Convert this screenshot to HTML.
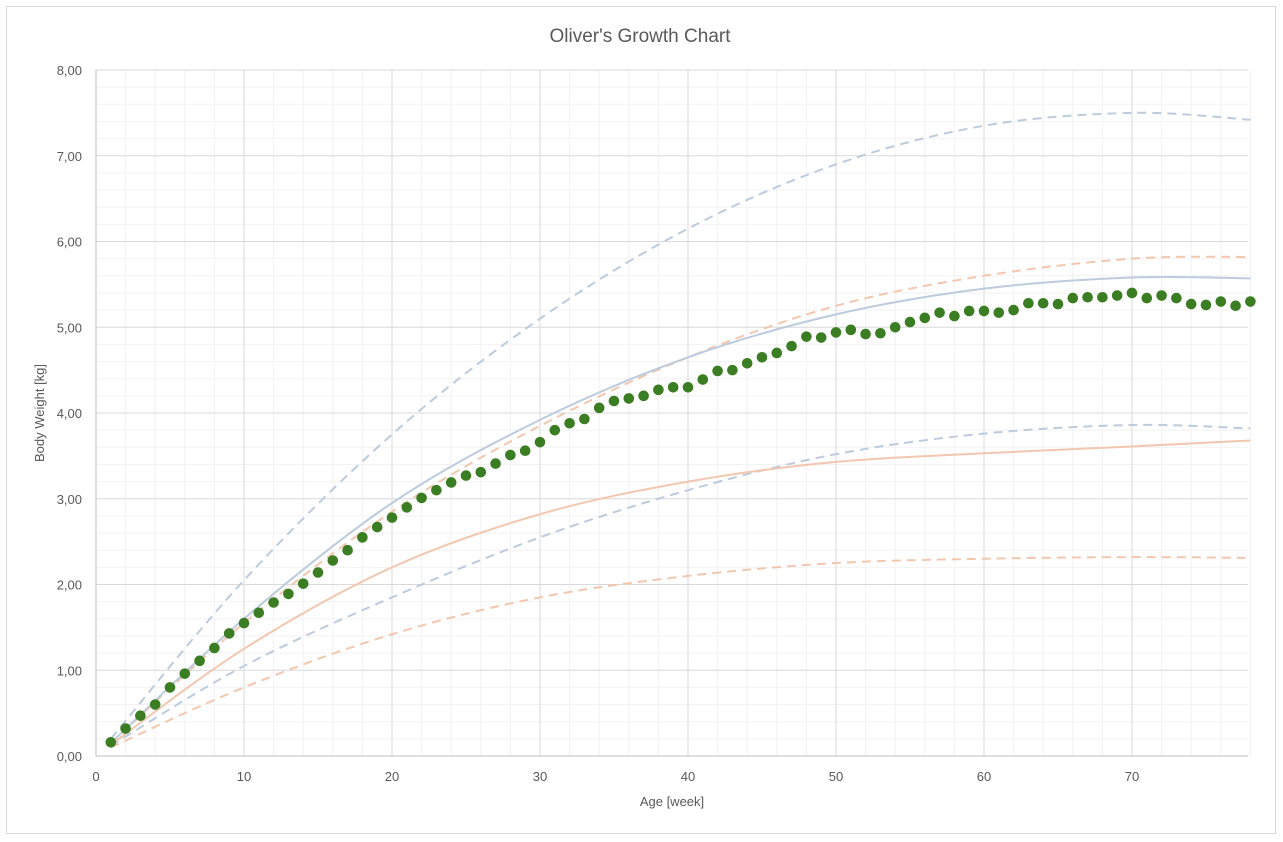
<!DOCTYPE html>
<html><head><meta charset="utf-8"><style>
html,body{margin:0;padding:0;background:#fff;}
svg{display:block;font-family:"Liberation Sans",sans-serif;}
</style></head><body>
<svg id="c" width="1283" height="842" xmlns="http://www.w3.org/2000/svg">
<rect x="6.5" y="6.5" width="1269" height="827" fill="#fff" stroke="#d9d9d9"/>
<text x="640" y="42" text-anchor="middle" font-size="19" fill="#595959">Oliver's Growth Chart</text>
<g id="grid"></g>
<g id="lines" fill="none" stroke-width="2"></g>
<g id="dots" fill="#3a7d22"></g>
<g id="labels" font-size="13" fill="#595959"></g>
<text x="672" y="806" text-anchor="middle" font-size="13" fill="#595959">Age [week]</text>
<text transform="translate(44,413) rotate(-90)" text-anchor="middle" font-size="13" fill="#595959">Body Weight [kg]</text>
</svg>
<script>
const X0=96,XS=14.8,Y0=756,YS=85.75;
const px=w=>X0+w*XS, py=v=>Y0-v*YS;
const NS="http://www.w3.org/2000/svg";
function el(p,t,a,txt){const e=document.createElementNS(NS,t);for(const k in a)e.setAttribute(k,a[k]);if(txt!=null)e.textContent=txt;document.getElementById(p).appendChild(e);}
for(let w=2;w<=78;w+=2){if(w%10)el("grid","line",{x1:px(w),x2:px(w),y1:70,y2:756,stroke:"#f2f2f2","stroke-width":1});}
for(let i=1;i<40;i++){if(i%5)el("grid","line",{x1:96,x2:1248,y1:py(i*0.2),y2:py(i*0.2),stroke:"#f2f2f2","stroke-width":1});}
for(let w=10;w<=70;w+=10)el("grid","line",{x1:px(w),x2:px(w),y1:70,y2:756,stroke:"#d9d9d9","stroke-width":1});
for(let v=1;v<=8;v++)el("grid","line",{x1:96,x2:1248,y1:py(v),y2:py(v),stroke:"#d9d9d9","stroke-width":1});
el("grid","line",{x1:96,x2:96,y1:70,y2:756,stroke:"#bfbfbf","stroke-width":1});
el("grid","line",{x1:96,x2:1248,y1:756,y2:756,stroke:"#bfbfbf","stroke-width":1});
for(let v=0;v<=8;v++)el("labels","text",{x:82,y:py(v)+5,"text-anchor":"end"},v.toFixed(2).replace(".",","));
for(let w=0;w<=70;w+=10)el("labels","text",{x:px(w),y:781,"text-anchor":"middle"},w);
function path(pts){const P=pts.map(p=>[px(p[0]),py(p[1])]);let d="M"+P[0][0]+","+P[0][1];
for(let i=0;i<P.length-1;i++){const p0=P[Math.max(0,i-1)],p1=P[i],p2=P[i+1],p3=P[Math.min(P.length-1,i+2)];
const c1=[p1[0]+(p2[0]-p0[0])/6,p1[1]+(p2[1]-p0[1])/6],c2=[p2[0]-(p3[0]-p1[0])/6,p2[1]-(p3[1]-p1[1])/6];
d+=` C${c1[0]},${c1[1]} ${c2[0]},${c2[1]} ${p2[0]},${p2[1]}`;}return d;}
const B="#bccbdd",O="#f2c7af";
const curves=[
[B,0,[[1,0.2],[10,2.05],[20,3.75],[30,5.1],[40,6.15],[50,6.9],[60,7.35],[70,7.5],[78,7.42]]],
[B,0,[[1,0.12],[10,1.05],[20,1.85],[30,2.55],[40,3.1],[50,3.52],[60,3.76],[70,3.86],[78,3.82]]],
[O,0,[[1,0.1],[10,0.8],[20,1.42],[30,1.85],[40,2.1],[50,2.25],[60,2.3],[70,2.32],[78,2.31]]],
[O,0,[[1,0.15],[10,1.55],[20,2.85],[30,3.85],[40,4.65],[50,5.25],[60,5.6],[70,5.8],[78,5.82]]],
[O,1,[[1,0.13],[10,1.25],[20,2.2],[30,2.82],[40,3.2],[50,3.43],[60,3.53],[70,3.61],[78,3.68]]],
[B,1,[[1,0.15],[10,1.6],[20,2.95],[30,3.92],[40,4.65],[50,5.15],[60,5.45],[70,5.58],[78,5.57]]]];
for(const [c,s,p] of curves){const a={d:path(p),stroke:c};if(!s)a["stroke-dasharray"]="9,6";el("lines","path",a);}
const data=[0.16,0.32,0.47,0.60,0.80,0.96,1.11,1.26,1.43,1.55,1.67,1.79,1.89,2.01,2.14,2.28,2.40,2.55,2.67,2.78,2.90,3.01,3.10,3.19,3.27,3.31,3.41,3.51,3.56,3.66,3.80,3.88,3.93,4.06,4.14,4.17,4.20,4.27,4.30,4.30,4.39,4.49,4.50,4.58,4.65,4.70,4.78,4.89,4.88,4.94,4.97,4.92,4.93,5.00,5.06,5.11,5.17,5.13,5.19,5.19,5.17,5.20,5.28,5.28,5.27,5.34,5.35,5.35,5.37,5.40,5.34,5.37,5.34,5.27,5.26,5.30,5.25,5.30];
data.forEach((v,i)=>el("dots","circle",{cx:px(i+1),cy:py(v),r:5.3}));
</script>
</body></html>
